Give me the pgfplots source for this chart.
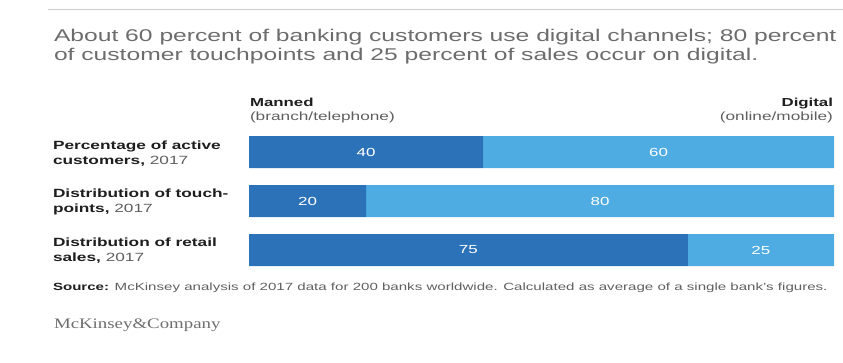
\documentclass[border=0pt]{standalone}
\usepackage{pgfplots}
\pgfplotsset{compat=1.18}
\usepackage{fontspec}
\setmainfont{Liberation Sans}[FakeStretch=1.45]
\newfontfamily\logofont{Liberation Serif}[FakeStretch=1.3]
\definecolor{darkblue}{RGB}{44,114,184}
\definecolor{lightblue}{RGB}{79,172,226}
\definecolor{titlegray}{RGB}{108,108,108}
\definecolor{labelblack}{RGB}{30,30,30}
\definecolor{subgray}{RGB}{95,95,95}
\definecolor{rulegray}{RGB}{205,205,205}
\definecolor{logogray}{RGB}{110,110,110}
\begin{document}
\begin{tikzpicture}
\path[use as bounding box] (0,0) rectangle (843pt,-362pt);
\draw[rulegray, line width=0.8pt] (48pt,-9.3pt) -- (843pt,-9.3pt);
\begin{scope}[every node/.style={inner sep=0pt, outer sep=0pt}]
\node[anchor=base west, text=titlegray, font=\fontsize{17}{19}\selectfont] at (54pt,-41.3pt) {About 60 percent of banking customers use digital channels; 80 percent};
\node[anchor=base west, text=titlegray, font=\fontsize{17}{19}\selectfont] at (54pt,-60.3pt) {of customer touchpoints and 25 percent of sales occur on digital.};
\node[anchor=base west, text=labelblack, font=\fontsize{11.6}{13}\selectfont\bfseries] at (250pt,-106pt) {Manned};
\node[anchor=base west, text=subgray, font=\fontsize{11.9}{13}\selectfont] at (250pt,-120pt) {(branch/telephone)};
\node[anchor=base east, text=labelblack, font=\fontsize{11.6}{13}\selectfont\bfseries] at (833pt,-106pt) {Digital};
\node[anchor=base east, text=subgray, font=\fontsize{11.9}{13}\selectfont] at (833pt,-120pt) {(online/mobile)};
\node[anchor=base west, text=labelblack, font=\fontsize{11.9}{13}\selectfont] at (53pt,-149pt) {\bfseries Percentage of active};
\node[anchor=base west, text=labelblack, font=\fontsize{11.9}{13}\selectfont] at (53pt,-164.5pt) {\textbf{customers,} \textcolor{subgray}{2017}};
\node[anchor=base west, text=labelblack, font=\fontsize{11.9}{13}\selectfont] at (53pt,-197pt) {\bfseries Distribution of touch-};
\node[anchor=base west, text=labelblack, font=\fontsize{11.9}{13}\selectfont] at (53pt,-212.5pt) {\textbf{points,} \textcolor{subgray}{2017}};
\node[anchor=base west, text=labelblack, font=\fontsize{11.9}{13}\selectfont] at (53pt,-246pt) {\bfseries Distribution of retail};
\node[anchor=base west, text=labelblack, font=\fontsize{11.9}{13}\selectfont] at (53pt,-261.5pt) {\textbf{sales,} \textcolor{subgray}{2017}};
\node[anchor=base west, text=subgray, font=\fontsize{10.4}{12}\selectfont] at (53pt,-290pt) {\textcolor{labelblack}{\bfseries Source:} McKinsey analysis of 2017 data for 200 banks worldwide. Calculated as average of a single bank's figures.};
\node[anchor=base west, text=logogray, font=\fontsize{14.5}{16}\selectfont\logofont] at (54pt,-328pt) {McKinsey\&Company};
\end{scope}
\begin{axis}[at={(249pt,-127.5pt)}, anchor=north west, scale only axis,
  width=585pt, height=147pt, xmin=0, xmax=100, ymin=-0.5, ymax=2.5,
  y dir=reverse, hide axis, xbar stacked, bar width=32pt]
\addplot[fill=darkblue, draw=none] coordinates {(40,0) (20,1) (75,2)};
\addplot[fill=lightblue, draw=none] coordinates {(60,0) (80,1) (25,2)};
\end{axis}
\begin{axis}[at={(249pt,-127.5pt)}, anchor=north west, scale only axis,
  width=585pt, height=147pt, xmin=0, xmax=100, ymin=-0.5, ymax=2.5,
  y dir=reverse, hide axis,
  every node near coord/.append style={anchor=center, text=white, inner sep=0pt, font=\fontsize{11.7}{13}\selectfont}]
\addplot[draw=none, mark=none, nodes near coords, point meta=explicit symbolic]
  coordinates {(20,0) [40] (70,0) [60] (10,1) [20] (60,1) [80] (37.5,2) [75] (87.5,2) [25]};
\end{axis}
\end{tikzpicture}
\end{document}
